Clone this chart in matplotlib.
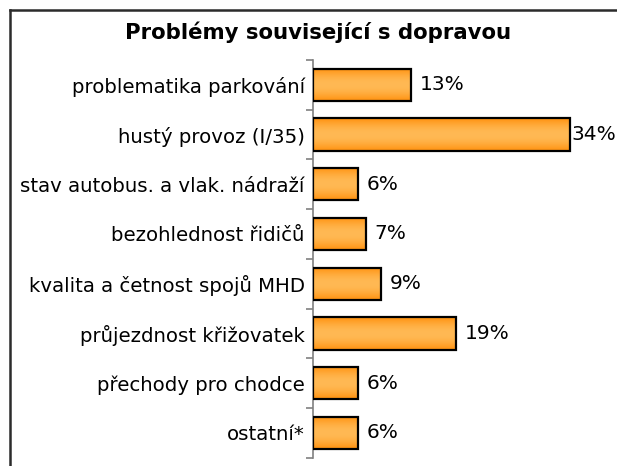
import numpy as np
import matplotlib
matplotlib.use("Agg")
import matplotlib.pyplot as plt
from matplotlib.lines import Line2D

kategorie = ["problematika parkování", "hustý provoz (I/35)",
             "stav autobus. a vlak. nádraží", "bezohlednost řidičů",
             "kvalita a četnost spojů MHD", "průjezdnost křižovatek",
             "přechody pro chodce", "ostatní*"]
procenta = [13, 34, 6, 7, 9, 19, 6, 6]
titulek = "Problémy související s dopravou"

plt.rcParams['font.family'] = ['DejaVu Sans']

fig = plt.figure(figsize=(6.17, 4.66), dpi=100)
ax = fig.add_axes([313/617, 1 - 457.7/466, 302/617, (457.7 - 60)/466])

y = np.arange(len(kategorie))
bary = ax.bar(0, 0.65, bottom=y - 0.325, width=procenta, align="edge",
              color="#FFA32E", edgecolor="black", linewidth=1.6, zorder=3)

# svisly gradient do kazdeho sloupce (tmavsi okraje, svetly stred)
prechod = np.sin(np.linspace(0, np.pi, 50)).reshape(-1, 1)
cmap = matplotlib.colors.LinearSegmentedColormap.from_list("oranz", ["#FF9210", "#FFB954"])
for b in bary:
    x0, y0 = b.get_x(), b.get_y()
    im = ax.imshow(prechod, cmap=cmap, aspect="auto",
                   extent=(x0, x0 + b.get_width(), y0, y0 + b.get_height()),
                   zorder=3.5, interpolation="bilinear")
    im.set_clip_path(b)
    b.set_facecolor("none")
    b.set_zorder(4)

ax.set_xlim(0, 40)
ax.set_ylim(len(kategorie) - 0.5, -0.5)

for v, yy in zip(procenta, y):
    off = 6 if v < 30 else 1
    ax.annotate(f"{v}%", (v, yy), xytext=(off, 0), textcoords="offset points",
                va="center", ha="left", fontsize=14.5, clip_on=False)

ax.set_yticks(y)
ax.set_yticklabels(kategorie, fontsize=14.2)
ax.set_yticks(np.arange(-0.5, len(kategorie)), minor=True)
ax.tick_params(axis="y", which="major", length=0, pad=6)
ax.tick_params(axis="y", which="minor", length=5, color="#808080", width=1.2)
ax.set_xticks([])
for s in ["top", "right", "bottom"]:
    ax.spines[s].set_visible(False)
ax.spines["left"].set_color("#808080")
ax.spines["left"].set_linewidth(1.2)

fig.text(318/617, 1 - 32/466, titulek, ha="center", va="center",
         fontsize=15.3, fontweight="bold")

# ramecek grafu
fig.add_artist(Line2D([10/617, 1], [1 - 10/466] * 2, color="#2b2b2b", lw=1.8))
fig.add_artist(Line2D([10/617] * 2, [0, 1 - 10/466], color="#2b2b2b", lw=1.8))

fig.savefig("out.png", dpi=100)
